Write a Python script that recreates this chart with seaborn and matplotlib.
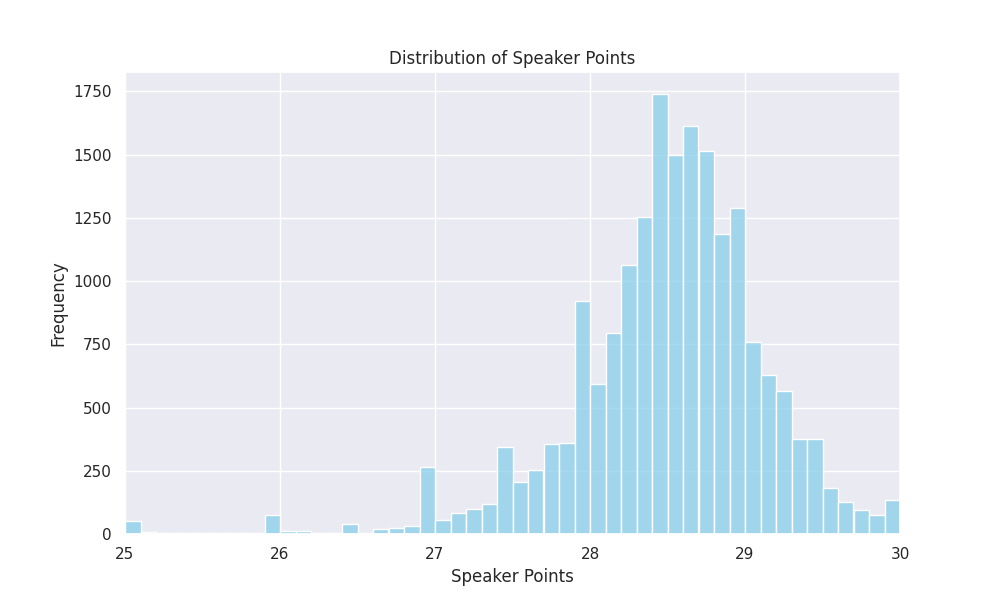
import matplotlib.pyplot as plt
import numpy as np
import seaborn as sns

# bin left edges (width 0.1) and counts
bin_starts = np.round(np.arange(25.0, 30.0, 0.1), 1)
counts = [50, 8, 3, 2, 4, 3, 2, 3, 5, 75,
          12, 12, 3, 5, 40, 3, 20, 25, 30, 265,
          55, 85, 100, 120, 345, 205, 255, 355, 360, 920,
          595, 795, 1065, 1255, 1740, 1500, 1615, 1515, 1185, 1290,
          760, 630, 565, 375, 375, 180, 125, 95, 75, 135]

sns.set_theme(style="darkgrid")
fig, ax = plt.subplots(figsize=(10, 6), dpi=100)
sns.histplot(x=bin_starts + 0.05, weights=counts, bins=50, binrange=(25, 30),
             color="skyblue", ax=ax)
ax.set_xlim(25, 30)
ax.set_title("Distribution of Speaker Points")
ax.set_xlabel("Speaker Points")
ax.set_ylabel("Frequency")
plt.savefig("out.png")
